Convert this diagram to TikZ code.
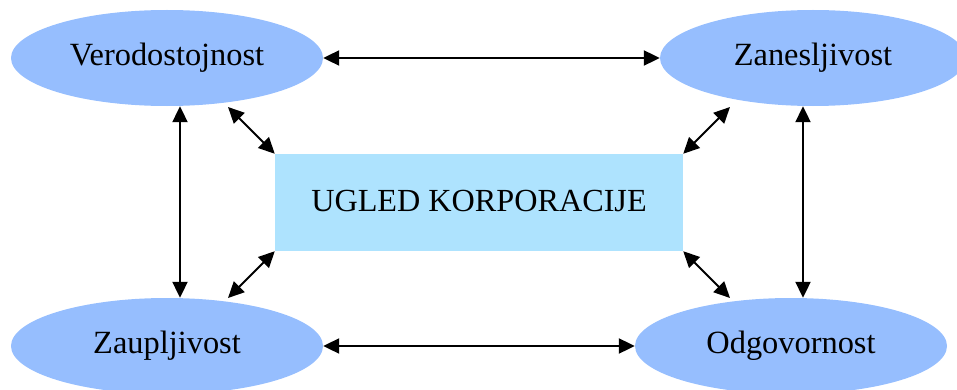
\documentclass[tikz,border=0pt]{standalone}
\usepackage{fontspec}
\setmainfont{Liberation Serif}
\usetikzlibrary{shapes.geometric,arrows.meta,calc}
\definecolor{ellblue}{RGB}{150,190,254}
\definecolor{boxblue}{RGB}{174,227,254}
\begin{document}
\begin{tikzpicture}[x=1pt,y=1pt,
  quality/.style={ellipse,fill=ellblue,minimum width=312pt,minimum height=96pt,inner sep=0pt,font=\fontsize{32.4}{38}\selectfont},
  centerbox/.style={rectangle,fill=boxblue,minimum width=408pt,minimum height=97pt,inner sep=0pt,font=\fontsize{32.2}{38}\selectfont},
  link/.style={line width=2.1pt,{Triangle[length=16pt,width=15pt]}-{Triangle[length=16pt,width=15pt]}}]
\useasboundingbox (0,0) rectangle (957,389);
\node[quality] (v) at (167,331) {Verodostojnost};
\node[quality,minimum width=306pt] (z) at (813,331) {Zanesljivost};
\node[quality] (za) at (167,43) {Zaupljivost};
\node[quality] (o) at (791,43) {Odgovornost};
\node[centerbox] (u) at (479,186.5) {\raisebox{3pt}{UGLED KORPORACIJE}};
\draw[link] (v.east) -- (z.west);
\draw[link] (za.east) -- (o.west);
\draw[link] ([xshift=13pt]v.south) -- ([xshift=13pt]za.north);
\draw[link] ([xshift=-10pt]z.south) -- ([xshift=12pt]o.north);
\coordinate (tl) at ($(v.center)+(61,-49)$);
\coordinate (tr) at ($(z.center)+(-83,-49)$);
\coordinate (bl) at ($(za.center)+(61,48)$);
\coordinate (br) at ($(o.center)+(-61,48)$);
\draw[link] (tl) -- (u.north west);
\draw[link] (u.north east) -- (tr);
\draw[link] (u.south west) -- (bl);
\draw[link] (u.south east) -- (br);
\end{tikzpicture}
\end{document}
